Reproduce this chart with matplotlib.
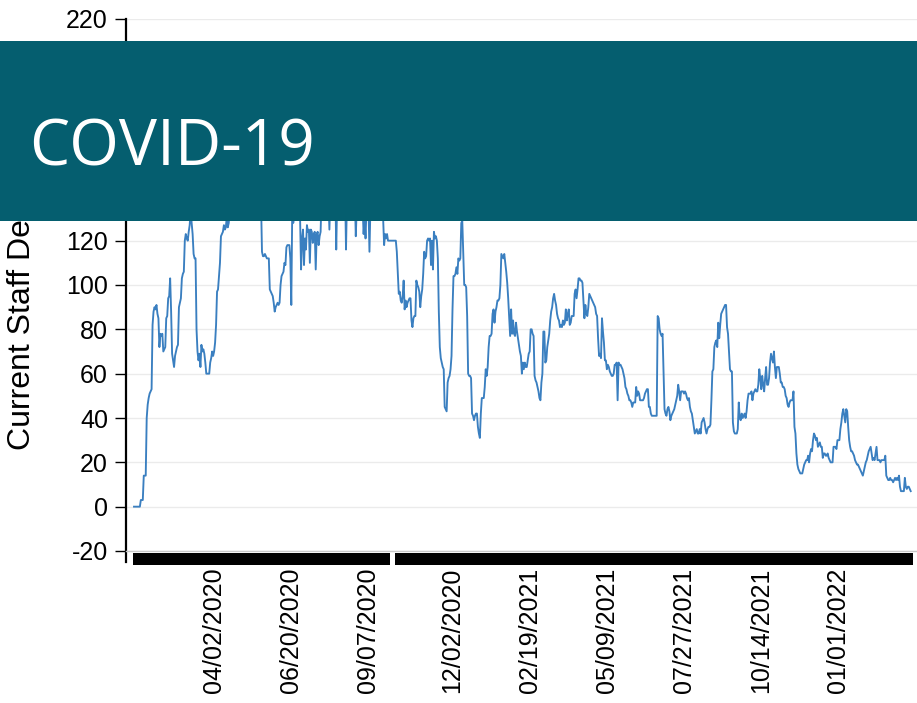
import datetime as dt
import matplotlib
matplotlib.use("Agg")
import matplotlib.pyplot as plt
import matplotlib.dates as mdates
import matplotlib.transforms as mtransforms
from matplotlib.patches import Rectangle
import pandas as pd

# ---------------- data ----------------
# daily dates: two runs (no reports 2020-09-28 .. 2020-10-04)
run1_start, run1_end = "2020-01-11", "2020-09-27"
run2_start, run2_end = "2020-10-05", "2022-03-16"

values_run1 = [
    0, 0, 0, 0, 0, 0, 0, 3, 3, 3,
    14, 14, 14, 40, 46, 49, 51, 52, 53, 82,
    88, 90, 89, 91, 87, 85, 72, 78, 77, 78,
    70, 71, 72, 85, 86, 94, 95, 103, 88, 69,
    66, 63, 68, 70, 72, 73, 90, 92, 94, 103,
    105, 106, 120, 123, 121, 120, 124, 127, 134, 128,
    123, 114, 112, 112, 80, 70, 66, 69, 63, 73,
    70, 71, 69, 65, 60, 60, 60, 60, 65, 67,
    70, 68, 70, 74, 82, 97, 98, 104, 110, 122,
    123, 124, 127, 125, 126, 131, 126, 128, 135, 140,
    146, 150, 155, 158, 163, 166, 170, 172, 175, 178,
    180, 178, 176, 174, 172, 170, 168, 165, 163, 160,
    158, 155, 153, 150, 148, 146, 145, 143, 142, 140,
    138, 115, 113, 113, 114, 113, 112, 112, 112, 98,
    97, 96, 95, 92, 88, 90, 91, 92, 91, 92,
    100, 104, 105, 106, 110, 109, 117, 118, 118, 118,
    112, 91, 135, 128, 132, 140, 145, 150, 148, 140,
    130, 107, 121, 125, 109, 121, 116, 127, 124, 125,
    110, 125, 124, 119, 123, 124, 107, 123, 124, 118,
    122, 124, 140, 150, 155, 160, 158, 150, 145, 140,
    125, 140, 150, 160, 170, 160, 145, 116, 140, 155,
    165, 175, 185, 190, 180, 160, 145, 116, 140, 160,
    175, 185, 195, 205, 185, 160, 140, 122, 135, 150,
    165, 170, 160, 150, 135, 123, 130, 121, 135, 145,
    135, 115, 135, 150, 160, 170, 165, 160, 155, 150,
    145, 140, 138, 136, 133, 130, 118, 123, 121, 123,
    120,
]

values_run2 = [
    120, 115, 105, 96, 97, 93, 92, 95, 102, 89,
    93, 90, 92, 93, 94, 94, 84, 81, 85, 86,
    86, 102, 100, 99, 97, 90, 95, 98, 105, 115,
    112, 113, 120, 121, 120, 121, 109, 120, 107, 124,
    121, 122, 120, 112, 88, 72, 67, 65, 63, 62,
    45, 44, 43, 56, 58, 59, 62, 68, 89, 104,
    104, 105, 108, 105, 112, 111, 112, 128, 129, 114,
    100, 100, 99, 86, 60, 59, 59, 58, 42, 41,
    39, 41, 42, 42, 36, 33, 31, 42, 49, 49,
    49, 54, 62, 59, 63, 72, 77, 77, 78, 87,
    89, 83, 88, 90, 93, 93, 94, 100, 114, 113,
    112, 114, 110, 106, 101, 94, 85, 77, 89, 78,
    84, 78, 77, 83, 79, 76, 73, 70, 68, 60,
    65, 62, 65, 63, 63, 66, 69, 70, 80, 80,
    78, 77, 59, 57, 56, 54, 52, 49, 48, 56,
    60, 79, 79, 65, 66, 72, 75, 78, 84, 88,
    90, 94, 96, 93, 91, 87, 85, 84, 81, 82,
    81, 84, 82, 83, 89, 84, 87, 89, 82, 83,
    86, 86, 86, 96, 98, 94, 98, 103, 103, 102,
    102, 101, 93, 85, 91, 87, 86, 90, 96, 95,
    94, 93, 92, 91, 90, 87, 86, 76, 68, 69,
    67, 85, 79, 74, 66, 66, 62, 64, 63, 61,
    60, 59, 59, 60, 64, 64, 65, 48, 65, 64,
    64, 63, 62, 60, 58, 54, 53, 51, 50, 48,
    48, 47, 45, 47, 47, 47, 54, 50, 52, 51,
    48, 48, 48, 48, 49, 51, 52, 53, 53, 45,
    45, 42, 41, 41, 41, 41, 41, 41, 86, 85,
    80, 78, 77, 78, 60, 44, 42, 41, 44, 45,
    43, 39, 41, 42, 43, 44, 46, 48, 50, 55,
    52, 48, 52, 52, 52, 51, 52, 51, 49, 48,
    49, 45, 43, 42, 39, 36, 33, 34, 35, 33,
    33, 35, 33, 38, 39, 40, 38, 35, 33, 35,
    36, 36, 37, 48, 61, 62, 72, 74, 75, 72,
    83, 76, 82, 87, 88, 89, 90, 91, 91, 81,
    78, 70, 62, 61, 61, 38, 34, 33, 33, 33,
    35, 47, 40, 39, 42, 40, 41, 42, 40, 43,
    48, 51, 51, 51, 52, 48, 51, 52, 53, 52,
    52, 55, 62, 58, 53, 59, 55, 52, 58, 63,
    55, 55, 58, 65, 69, 67, 65, 70, 63, 58,
    63, 63, 63, 60, 56, 56, 54, 54, 53, 50,
    49, 46, 45, 47, 48, 48, 48, 52, 36, 33,
    24, 19, 17, 16, 15, 15, 15, 17, 19, 20,
    21, 21, 23, 20, 24, 26, 25, 30, 33, 32,
    30, 31, 27, 28, 29, 27, 27, 22, 24, 24,
    23, 23, 24, 22, 21, 20, 20, 20, 27, 27,
    27, 26, 30, 30, 30, 35, 38, 42, 44, 41,
    38, 44, 43, 36, 30, 27, 25, 25, 24, 23,
    21, 20, 19, 19, 18,
    17, 16, 15, 14, 16, 18, 20, 21, 23, 25,
    26, 27, 24, 21, 22, 21, 24, 27, 21, 21,
    21, 20, 21, 21, 21, 21, 23, 14, 13, 12,
    12, 13, 12, 12, 11, 12, 13, 12, 13, 12,
    14, 9, 7, 7, 7, 7, 13, 9, 8, 9,
    9, 8, 7,
]

label_dates = ["2020-04-02", "2020-06-20", "2020-09-07", "2020-12-02",
               "2021-02-19", "2021-05-09", "2021-07-27", "2021-10-14",
               "2022-01-01"]
y_ticks = list(range(-20, 221, 20))
y_label = "Current Staff Detections"
banner_title = "COVID-19"

# ---------------- build ----------------
dates = list(pd.date_range(run1_start, run1_end)) + list(pd.date_range(run2_start, run2_end))
values = values_run1 + values_run2
dates = [d.to_pydatetime() for d in dates]

W, H = 917, 703
fig = plt.figure(figsize=(W / 100, H / 100), dpi=100)
fig.patch.set_facecolor("white")

ax_l, ax_r, ax_t, ax_b = 126, 917, 19, 551
ax = fig.add_axes([ax_l / W, 1 - ax_b / H, (ax_r - ax_l) / W, (ax_b - ax_t) / H])

ax.plot(dates, values, color="#3a7fc0", lw=1.35, zorder=3)

# x scale: first date 8px inside the axis, 0.977 px per day
px_per_day = 0.977
d0 = dates[0]
left = d0 - dt.timedelta(days=(134 - ax_l) / px_per_day)
right = d0 + dt.timedelta(days=(ax_r - 134) / px_per_day)
ax.set_xlim(left, right)
ax.set_ylim(-20, 220)

font = "Liberation Sans"
ax.set_yticks(y_ticks)
ax.set_yticklabels([str(v) for v in y_ticks], fontsize=18, family=font)
ax.yaxis.grid(True, color="#ebebeb", lw=1.0, zorder=0)
ax.set_axisbelow(True)

# one tick per reported day -> dense black band under the axis
band_h = 11 / (ax_b - ax_t)  # in axes fraction
off = 1.5 / (ax_b - ax_t)
trans = mtransforms.blended_transform_factory(ax.transData, ax.transAxes)
ax.vlines(dates, -band_h - off, -off, transform=trans,
          colors="black", linewidth=0.75, antialiased=False, clip_on=False, zorder=2)

label_dt = [dt.datetime.strptime(s, "%Y-%m-%d") for s in label_dates]
ax.set_xticks(mdates.date2num(label_dt))
ax.set_xticklabels([d.strftime("%m/%d/%Y") for d in label_dt],
                   rotation=90, fontsize=18, family=font)
ax.tick_params(axis="x", which="both", length=0, pad=12)
ax.tick_params(axis="y", length=8, width=1, color="black", pad=5)

for s in ("top", "right"):
    ax.spines[s].set_visible(False)
ax.spines["bottom"].set_color("#c8c8c8")
ax.spines["bottom"].set_linewidth(1)
ax.spines["left"].set_color("black")
ax.spines["left"].set_linewidth(1.6)
ax.spines["left"].set_bounds(-25, 220)

fig.text(22 / W, 1 - 450 / H, y_label, rotation=90, ha="center", va="bottom",
         fontsize=23, family=font, color="black")

# banner
fig.add_artist(Rectangle((0, 1 - 221 / H), 1, 180 / H, transform=fig.transFigure,
                         facecolor="#055e6f", edgecolor="none", zorder=20))
fig.text(29 / W, 1 - 165 / H, banner_title, ha="left", va="baseline", fontsize=46,
         family=["Open Sans", "DejaVu Sans"], color="white", zorder=21)

fig.savefig("out.png", dpi=100)
